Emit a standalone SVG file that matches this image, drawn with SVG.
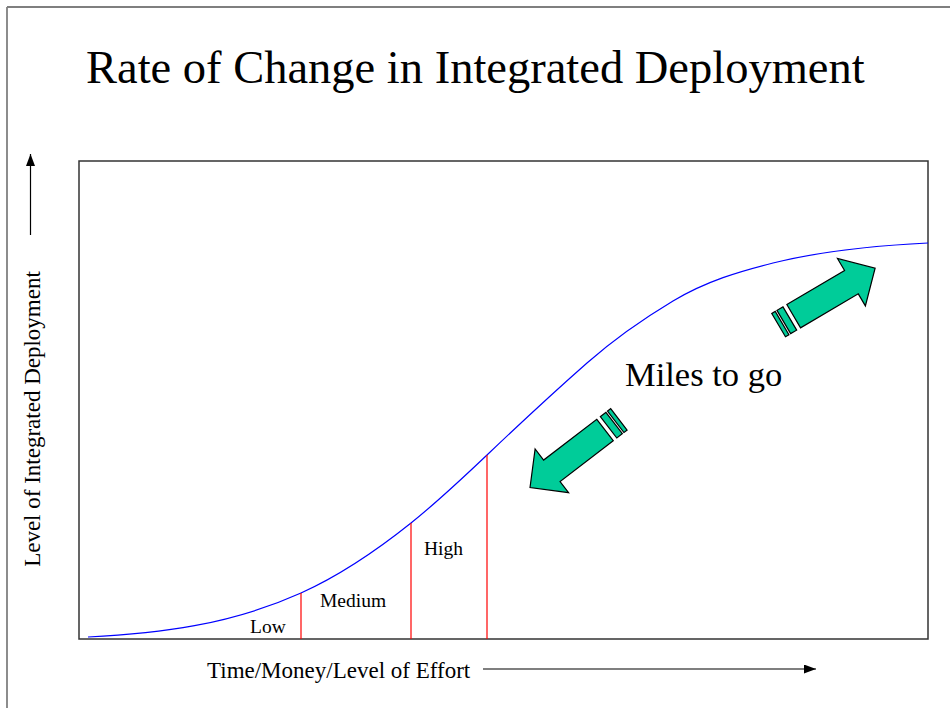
<svg xmlns="http://www.w3.org/2000/svg" width="950" height="708" viewBox="0 0 950 708">
<defs>
<style>
text{font-family:"Liberation Serif","Times New Roman",serif;fill:#000}
.lbl{font-size:19.5px}
.ax{font-size:23px}
.red{stroke:#FF0000;stroke-width:1.2;fill:none}
.grn{fill:#00CC99;stroke:#000;stroke-width:1.2;stroke-linejoin:miter}
</style>
<marker id="ah" viewBox="0 0 12 9" refX="12" refY="4.5" markerWidth="12" markerHeight="9" markerUnits="userSpaceOnUse" orient="auto">
<path d="M0,0 L12,4.5 L0,9 Z" fill="#000"/>
</marker>
<g id="blockArrow">
<rect class="grn" x="-17.5" y="-13.5" width="4" height="27"/>
<rect class="grn" x="-11.5" y="-13.5" width="7" height="27"/>
<path class="grn" d="M0,-13.5 L67,-13.5 L67,-27.5 L94.5,0 L67,27.5 L67,13.5 L0,13.5 Z"/>
</g>
</defs>
<rect x="0" y="0" width="950" height="708" fill="#fff"/>
<g id="frame">
<line x1="7" y1="7" x2="950" y2="7" stroke="#000" stroke-width="1.2"/>
<line x1="7" y1="7" x2="7" y2="708" stroke="#808080" stroke-width="1.8"/>
</g>
<g id="title">
<text x="86" y="83" style="font-size:46.5px">Rate of Change in Integrated Deployment</text>
</g>
<g id="chart">
<rect x="79" y="161" width="849" height="478" fill="none" stroke="#333" stroke-width="1.5"/>
</g>
<g id="connectors">
<path id="curve" fill="none" stroke="#0000FF" stroke-width="1.2" d="M88,637 C159,633.45 230,624.95 301,593 C337.67,576.5 374.33,552.33 411,523 C436.33,502.73 461.67,479.07 487,455 C520.33,423.33 553.67,392.33 587,363 C615.67,337.77 644.33,318.2 673,301 C706.33,281 739.67,271.33 773,263 C824.67,250.1 876.33,245.6 928,243"/>
<line class="red" x1="301" y1="593" x2="301" y2="639"/>
<line class="red" x1="411" y1="523" x2="411" y2="639"/>
<line class="red" x1="487" y1="455" x2="487" y2="639"/>
<line id="xAxisArrow" x1="483" y1="669" x2="816" y2="669" stroke="#000" stroke-width="1.2" marker-end="url(#ah)"/>
<line id="yAxisArrow" x1="30.5" y1="235" x2="30.5" y2="154" stroke="#000" stroke-width="1.2" marker-end="url(#ah)"/>
</g>
<g id="zones">
<text class="lbl" x="250" y="633">Low</text>
<text class="lbl" x="320" y="607">Medium</text>
<text class="lbl" x="424" y="555">High</text>
</g>
<g id="axisLabels">
<text class="ax" x="207" y="678">Time/Money/Level of Effort</text>
<text class="ax" text-anchor="middle" transform="translate(40,419) rotate(-90)">Level of Integrated Deployment</text>
</g>
<g id="milesToGo">
<use href="#blockArrow" transform="translate(793.7,316.2) rotate(-30.5)"/>
<use href="#blockArrow" transform="translate(605,430) rotate(142.5)"/>
<text x="625" y="386" style="font-size:34.5px">Miles to go</text>
</g>
</svg>
